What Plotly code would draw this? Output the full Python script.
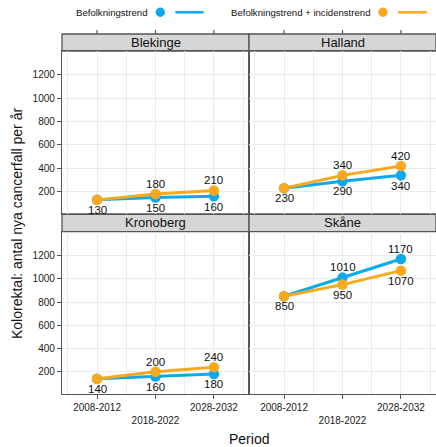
import plotly.graph_objects as go

# ---- data ----
periods = ["2008-2012", "2018-2022", "2028-2032"]
period_ticktext = ["2008-2012", "<br>2018-2022", "2028-2032"]
regions = ["Blekinge", "Halland", "Kronoberg", "Skåne"]
series_names = ["Befolkningstrend", "Befolkningstrend + incidenstrend"]

blekinge_bef = [130, 150, 160]
blekinge_inc = [130, 180, 210]
halland_bef = [230, 290, 340]
halland_inc = [230, 340, 420]
kronoberg_bef = [140, 160, 180]
kronoberg_inc = [140, 200, 240]
skane_bef = [850, 1010, 1170]
skane_inc = [850, 950, 1070]

y_ticks = [200, 400, 600, 800, 1000, 1200]

# ---- styling ----
BLUE = "#0DAAEB"
ORANGE = "#F9A91E"
FRAME = "#555555"
GRID = "#EBEBEB"
STRIP = "#D6D6D6"
FONT = "Liberation Sans, Arial, sans-serif"

bef_all = [blekinge_bef, halland_bef, kronoberg_bef, skane_bef]
inc_all = [blekinge_inc, halland_inc, kronoberg_inc, skane_inc]

W, H = 436, 447
ML, MR, MT, MB = 62, 0, 34, 53
PW, PH = W - ML - MR, H - MT - MB

def py(pix):  # pixel y -> paper y
    return (H - MB - pix) / PH

def px(pix):  # pixel x -> paper x
    return (pix - ML) / PW

x_dom = [[0, 0.5], [0.5, 1], [0, 0.5], [0.5, 1]]
top_panel = [py(214), py(51)]
bot_panel = [0, py(231.7)]
y_dom = [top_panel, top_panel, bot_panel, bot_panel]

fig = go.Figure()
xidx = list(range(len(periods)))
annotations = []
shapes = []

for i, reg in enumerate(regions):
    sfx = "" if i == 0 else str(i + 1)
    bef, inc = bef_all[i], inc_all[i]
    fig.add_trace(go.Scatter(
        x=xidx, y=bef, mode="lines+markers",
        line=dict(color=BLUE, width=3), marker=dict(color=BLUE, size=10.5),
        name=series_names[0], showlegend=False,
        xaxis="x" + sfx, yaxis="y" + sfx, cliponaxis=False))
    fig.add_trace(go.Scatter(
        x=xidx, y=inc, mode="lines+markers",
        line=dict(color=ORANGE, width=3), marker=dict(color=ORANGE, size=10.5),
        name=series_names[1], showlegend=False,
        xaxis="x" + sfx, yaxis="y" + sfx, cliponaxis=False))
    # value labels: higher series above, lower below; shared start value below
    for j in range(len(periods)):
        labels = []
        if bef[j] == inc[j]:
            labels.append((bef[j], -1))
        else:
            hi, lo = max(bef[j], inc[j]), min(bef[j], inc[j])
            labels.append((hi, 1))
            labels.append((lo, -1))
        for val, d in labels:
            annotations.append(dict(
                text=str(val), xref="x" + sfx, yref="y" + sfx,
                x=xidx[j], y=val, yshift=10.2 * d, showarrow=False,
                xanchor="center", yanchor="middle",
                font=dict(size=11.5, color="#111111")))

layout = dict(
    width=W, height=H,
    margin=dict(l=ML, r=MR, t=MT, b=MB),
    paper_bgcolor="white", plot_bgcolor="white",
    font=dict(family=FONT, color="#1a1a1a"),
    showlegend=False,
)

for i, reg in enumerate(regions):
    sfx = "" if i == 0 else str(i + 1)
    bottom = i >= 2
    left = i % 2 == 0
    layout["xaxis" + sfx] = dict(
        domain=x_dom[i], anchor="y" + sfx,
        range=[-0.6, 2.6], tickmode="array", tickvals=xidx,
        ticktext=period_ticktext if bottom else [""] * 3,
        showticklabels=bottom,
        ticks="outside" if bottom else "", ticklen=4, tickcolor=FRAME,
        tickfont=dict(size=10, color="#1a1a1a"),
        showgrid=True, gridcolor=GRID, gridwidth=1,
        minor=dict(tickvals=[-0.5, 0.5, 1.5, 2.5], showgrid=True,
                   gridcolor=GRID, gridwidth=1, ticks=""),
        showline=True, mirror=True, linecolor=FRAME, linewidth=1.3,
        zeroline=False, fixedrange=True,
    )
    layout["yaxis" + sfx] = dict(
        domain=y_dom[i], anchor="x" + sfx,
        range=[9, 1405], tickmode="array", tickvals=y_ticks,
        showticklabels=left,
        ticks="outside" if left else "", ticklen=4, tickcolor=FRAME,
        tickfont=dict(size=10, color="#1a1a1a"),
        showgrid=True, gridcolor=GRID, gridwidth=1,
        showline=True, mirror=True, linecolor=FRAME, linewidth=1.3,
        zeroline=False, fixedrange=True,
    )
    # strip above panel
    y0 = y_dom[i][1]
    y1 = py(34) if i < 2 else py(214)
    shapes.append(dict(type="rect", xref="paper", yref="paper",
                       x0=x_dom[i][0], x1=x_dom[i][1], y0=y0, y1=y1,
                       fillcolor=STRIP, line=dict(color=FRAME, width=1.3),
                       layer="below"))
    annotations.append(dict(text=reg, xref="paper", yref="paper",
                            x=(x_dom[i][0] + x_dom[i][1]) / 2, y=(y0 + y1) / 2,
                            xanchor="center", yanchor="middle", showarrow=False,
                            font=dict(size=13, color="#111111")))
    # lattice-style ticks above top strips
    if i < 2:
        for xv in xidx:
            shapes.append(dict(type="line", xref="x" + sfx, yref="paper",
                               x0=xv, x1=xv, y0=1, y1=py(30),
                               line=dict(color=FRAME, width=1.2)))

# axis titles
annotations.append(dict(text="Period", xref="paper", yref="paper",
                        x=0.5, y=py(438.5), xanchor="center", yanchor="middle",
                        showarrow=False, font=dict(size=14, color="#111111")))
annotations.append(dict(text="Kolorektal: antal nya cancerfall per år",
                        xref="paper", yref="paper", x=px(17), y=py(224),
                        xanchor="center", yanchor="middle", textangle=-90,
                        showarrow=False, font=dict(size=14, color="#111111")))

# legend (custom, text before symbols)
leg_y = py(12.3)
leg_items = [(series_names[0], 73.7, 160.3, 175.3, 203.7, BLUE),
             (series_names[1], 229.3, 383.0, 398.0, 426.7, ORANGE)]
for name, tx, dx, lx0, lx1, col in leg_items:
    annotations.append(dict(text=name, xref="paper", yref="paper",
                            x=px(tx), y=leg_y, xanchor="left", yanchor="middle",
                            showarrow=False, font=dict(size=9.6, color="#111111")))
    r = 4.7
    shapes.append(dict(type="circle", xref="paper", yref="paper",
                       x0=px(dx - r), x1=px(dx + r), y0=py(12.3 + r), y1=py(12.3 - r),
                       fillcolor=col, line=dict(width=0)))
    shapes.append(dict(type="line", xref="paper", yref="paper",
                       x0=px(lx0), x1=px(lx1), y0=leg_y, y1=leg_y,
                       line=dict(color=col, width=2.5)))

layout["shapes"] = shapes
layout["annotations"] = annotations
fig.update_layout(**layout)

fig.write_html("out.html", config={"displayModeBar": False},
               post_script="document.body.style.margin='0';document.body.style.padding='0';")
